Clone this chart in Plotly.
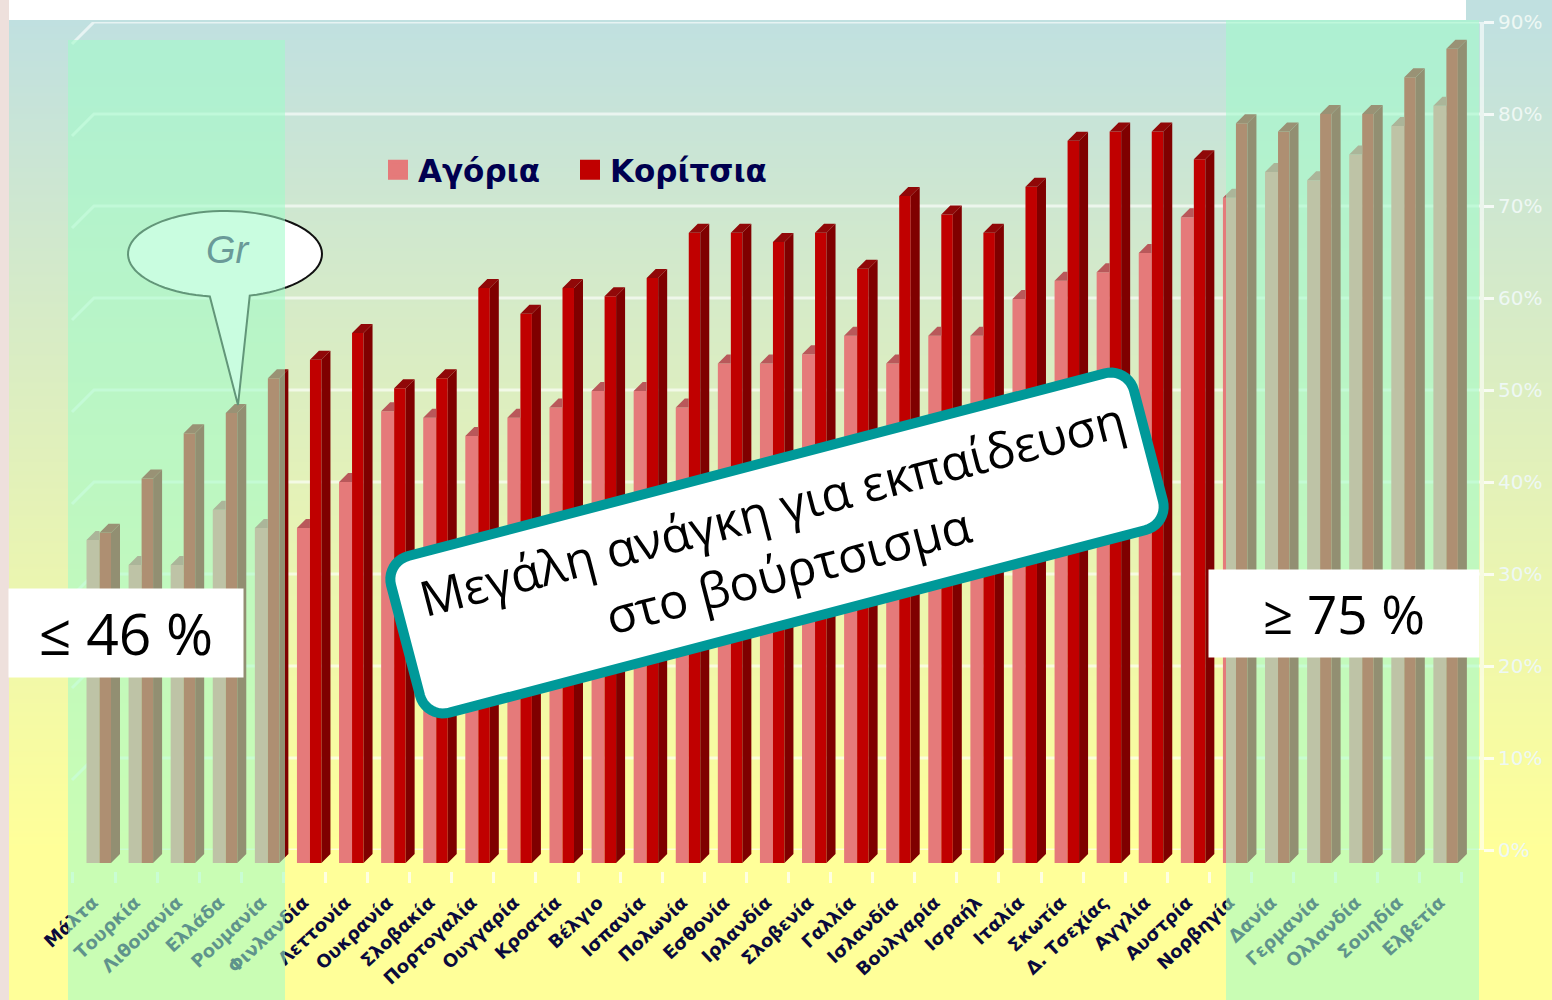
import base64, math, struct, zlib
import plotly.graph_objects as go

countries = ["Μάλτα","Τουρκία","Λιθουανία","Ελλάδα","Ρουμανία","Φινλανδία","Λεττονία","Ουκρανία","Σλοβακία",
             "Πορτογαλία","Ουγγαρία","Κροατία","Βέλγιο","Ισπανία","Πολωνία","Εσθονία","Ιρλανδία","Σλοβενία",
             "Γαλλία","Ισλανδία","Βουλγαρία","Ισραήλ","Ιταλία","Σκωτία","Δ. Τσεχίας","Αγγλία","Αυστρία",
             "Νορβηγία","Δανία","Γερμανία","Ολλανδία","Σουηδία","Ελβετία"]
boys = [35.1,32.4,32.4,38.4,36.4,36.4,41.4,49.1,48.4,46.4,48.4,49.5,51.3,51.3,49.5,54.3,54.3,55.3,57.3,54.3,
        57.3,57.3,61.3,63.3,64.2,66.3,70.2,72.3,75.1,74.2,77.0,80.1,82.3]
girls = [35.9,41.8,46.7,48.9,52.7,54.7,57.6,51.6,52.7,62.5,59.7,62.5,61.6,63.6,68.5,68.5,67.5,68.5,64.6,72.5,
         70.5,68.5,73.5,78.5,79.5,79.5,76.5,80.4,79.5,81.4,81.4,85.4,88.5]
pct_ticks = [0,10,20,30,40,50,60,70,80,90]
boys_name, girls_name = "Αγόρια", "Κορίτσια"

W, H = 1552, 1000
PX_CAT = 42.09     # pixels per category
PX_PCT = 9.2       # pixels per percent
X0 = 94.0          # pixel of category 0
def xu(px): return px / PX_CAT
def fx(px): return px / W
def fy(py): return 1 - py / H

# ---------- background gradient as a stretched image
def gradient_png():
    a, b = (192,224,224), (255,255,153)
    rows = []
    for y in range(H):
        t = min(max((y-20)/830, 0), 1)
        rows.append(b"\x00" + bytes(round(a[k]+(b[k]-a[k])*t) for k in range(3)))
    def chunk(tag, data):
        return struct.pack(">I", len(data)) + tag + data + struct.pack(">I", zlib.crc32(tag+data))
    png = (b"\x89PNG\r\n\x1a\n" + chunk(b"IHDR", struct.pack(">IIBBBBB", 1, H, 8, 2, 0, 0, 0))
           + chunk(b"IDAT", zlib.compress(b"".join(rows))) + chunk(b"IEND", b""))
    return "data:image/png;base64," + base64.b64encode(png).decode()

fig = go.Figure()

# ---------- back wall grid, floor (on the visible percent axis)
gx, gy = [], []
for v in pct_ticks:
    gx += [xu(-22), 0, xu(1480-X0), None]
    gy += [v-22/PX_PCT, v, v, None]
fig.add_trace(go.Scatter(x=gx, y=gy, mode="lines", line=dict(color="rgba(255,255,255,0.62)", width=3),
                         cliponaxis=False, showlegend=False, hoverinfo="skip", xaxis="x", yaxis="y"))
fig.add_trace(go.Scatter(x=[-0.5, 32.5, xu(1480-X0)], y=[-21/PX_PCT, -21/PX_PCT, 0], mode="lines",
                         line=dict(color="rgba(255,255,255,0.75)", width=3), cliponaxis=False,
                         showlegend=False, hoverinfo="skip", xaxis="x", yaxis="y"))

# ---------- 3-D bars
DX, DY = xu(9), 9/PX_PCT
bl, bm, gl, gr_, gs = xu(-7.5), xu(5.5), xu(5.5), xu(17), xu(26)
fig.add_trace(go.Bar(x=list(range(33)), y=boys, offset=bl, width=bm-bl, marker=dict(color="#e57a7a", line_width=0),
                     name=boys_name, showlegend=False, xaxis="x", yaxis="y2"))
fig.add_trace(go.Bar(x=list(range(33)), y=girls, offset=gl, width=gr_-gl, marker=dict(color="#c00000", line_width=0),
                     name=girls_name, showlegend=False, xaxis="x", yaxis="y2"))
px_, py_ = [], []
for i, v in enumerate(boys):
    px_ += [i+bl, i+bm, i+bm, i+bl+DX, i+bl, None]
    py_ += [v, v, v+DY, v+DY, v, None]
fig.add_trace(go.Scatter(x=px_, y=py_, mode="lines", fill="toself", fillcolor="#b9585a", line_width=0,
                         showlegend=False, hoverinfo="skip", xaxis="x", yaxis="y2"))
sx, sy, tx, ty = [], [], [], []
for i, v in enumerate(girls):
    sx += [i+gr_, i+gs, i+gs, i+gr_, i+gr_, None]
    sy += [0, DY, v+DY, v, 0, None]
    tx += [i+gl, i+gr_, i+gs, i+gl+DX, i+gl, None]
    ty += [v, v, v+DY, v+DY, v, None]
fig.add_trace(go.Scatter(x=sx, y=sy, mode="lines", fill="toself", fillcolor="#7f0000", line_width=0,
                         showlegend=False, hoverinfo="skip", xaxis="x", yaxis="y2"))
fig.add_trace(go.Scatter(x=tx, y=ty, mode="lines", fill="toself", fillcolor="#900808", line_width=0,
                         showlegend=False, hoverinfo="skip", xaxis="x", yaxis="y2"))

# ---------- legend entries (one legend per entry so each sits where the original does)
for name, col, lg in ((boys_name, "#e57a7a", "legend"), (girls_name, "#c00000", "legend2")):
    fig.add_trace(go.Scatter(x=[None], y=[None], mode="markers", name=name, legend=lg,
                             marker=dict(symbol="square", size=16, color=col, line=dict(color=col, width=4)),
                             xaxis="x", yaxis="y2"))

# ---------- shapes
def poly(points):
    return "M" + " L".join(f"{fx(x):.5f},{fy(y):.5f}" for x, y in points) + " Z"

shapes = []
# callout (lies under the green band)
cx, cy, rx, ry, n = 225, 254, 97, 43, 80
a0 = math.atan2((296-cy)/ry, (250-cx)/rx)
a1 = math.atan2((296-cy)/ry, (210-cx)/rx)
span = 2*math.pi - ((a1 - a0) % (2*math.pi))
ell = [(238, 405)]
for k in range(n+1):
    a = a0 - span * k / n
    ell.append((cx + rx*math.cos(a), cy + ry*math.sin(a)))
shapes.append(dict(type="path", xref="paper", yref="paper", path=poly(ell), fillcolor="white",
                   line=dict(color="#111111", width=2), layer="above"))
# bands
shapes.append(dict(type="rect", xref="paper", yref="paper", x0=fx(68), x1=fx(285), y0=fy(1000), y1=fy(40),
                   fillcolor="rgba(160,252,200,0.57)", line_width=0, layer="above"))
shapes.append(dict(type="rect", xref="paper", yref="paper", x0=fx(1226), x1=fx(1479), y0=fy(1000), y1=fy(20),
                   fillcolor="rgba(160,252,200,0.57)", line_width=0, layer="above"))
# top strip and left edge
shapes.append(dict(type="rect", xref="paper", yref="paper", x0=fx(9), x1=fx(1466), y0=fy(20), y1=1,
                   fillcolor="white", line_width=0, layer="above"))
shapes.append(dict(type="rect", xref="paper", yref="paper", x0=0, x1=fx(9), y0=0, y1=1,
                   fillcolor="#eee0dc", line_width=0, layer="above"))

annotations = [
    dict(text="<i>Gr</i>", xref="paper", yref="paper", x=fx(228), y=fy(250), showarrow=False,
         xanchor="center", yanchor="middle", font=dict(family="Liberation Sans", size=38, color="#6a9a98")),
    dict(text="≤ 46 %", xref="paper", yref="paper", x=fx(126), y=fy(633), showarrow=False, width=232, height=86,
         xanchor="center", yanchor="middle", bgcolor="white", font=dict(family="Open Sans", size=57, color="black")),
    dict(text="≥ 75 %", xref="paper", yref="paper", x=fx(1344), y=fy(613.5), showarrow=False, width=268, height=85,
         xanchor="center", yanchor="middle", bgcolor="white", font=dict(family="Open Sans", size=53, color="black")),
]

# rotated rounded box
bcx, bcy, bw, bh, ang, rad = 777, 543, 768, 162, math.radians(-14.7), 24
pts = []
for qx, qy, a0_ in ((bw/2-rad, -bh/2+rad, -90), (bw/2-rad, bh/2-rad, 0), (-bw/2+rad, bh/2-rad, 90), (-bw/2+rad, -bh/2+rad, 180)):
    for k in range(11):
        a = math.radians(a0_ + 9*k)
        pts.append((qx + rad*math.cos(a), qy + rad*math.sin(a)))
rot = [(bcx + x*math.cos(ang) - y*math.sin(ang), bcy + x*math.sin(ang) + y*math.cos(ang)) for x, y in pts]
shapes.append(dict(type="path", xref="paper", yref="paper", path=poly(rot), fillcolor="white",
                   line=dict(color="#009999", width=10), layer="above"))
annotations.append(dict(text="Μεγάλη ανάγκη για εκπαίδευση<br>στο βούρτσισμα", xref="paper", yref="paper",
                        x=fx(780), y=fy(539), showarrow=False, textangle=-14.5, xanchor="center", yanchor="middle",
                        font=dict(family="Open Sans", size=49, color="black")))

legend_common = dict(orientation="h", xanchor="left", yanchor="top", bgcolor="rgba(0,0,0,0)", itemwidth=30,
                     font=dict(family="DejaVu Sans", size=31, color="#000050", weight=700))

fig.update_layout(
    width=W, height=H, margin=dict(l=0, r=0, t=0, b=0, pad=0, autoexpand=False),
    paper_bgcolor="rgba(0,0,0,0)", plot_bgcolor="rgba(0,0,0,0)",
    barmode="overlay", shapes=shapes, annotations=annotations,
    images=[dict(source=gradient_png(), xref="paper", yref="paper", x=0, y=1, sizex=1, sizey=1,
                 sizing="stretch", xanchor="left", yanchor="top", layer="below")],
    legend=dict(x=fx(378), y=fy(143), **legend_common),
    legend2=dict(x=fx(570), y=fy(143), **legend_common),
    xaxis=dict(domain=[0,1], range=[-X0/PX_CAT, (W-X0)/PX_CAT], anchor="free", position=1-871/H,
               tickmode="array", tickvals=[i-0.02 for i in range(33)], ticktext=countries, tickangle=-43,
               ticks="outside", ticklen=13, tickcolor="rgba(0,0,0,0)", tickwidth=1,
               tickfont=dict(family="DejaVu Sans", size=18, color="#0a0a3c", weight=700),
               minor=dict(tickmode="array", tickvals=[k-0.5 for k in range(34)], ticks="outside", ticklen=11,
                          tickwidth=3, tickcolor="rgba(255,255,255,0.7)", showgrid=False),
               showgrid=False, zeroline=False, showline=False),
    yaxis=dict(domain=[1-850/H, 1-22/H], range=[0,90], anchor="free", position=1482/W, side="right",
               tickmode="array", tickvals=pct_ticks, ticktext=[f"{v}%" for v in pct_ticks],
               ticks="outside", ticklen=10, tickwidth=3, tickcolor="rgba(255,255,255,0.8)",
               tickfont=dict(family="DejaVu Sans", size=20, color="#eef8f4"),
               showgrid=False, zeroline=False, showline=True, linewidth=4, linecolor="rgba(255,255,255,0.6)"),
    yaxis2=dict(domain=[0,1], range=[(863-H)/PX_PCT, 863/PX_PCT], anchor="x", visible=False),
)

fig.write_html("out.html", config=dict(displayModeBar=False),
               post_script="document.body.style.margin='0';document.body.style.overflow='hidden';")
